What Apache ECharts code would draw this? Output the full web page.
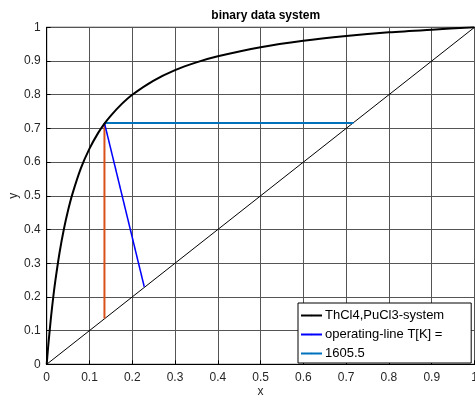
<!DOCTYPE html>
<html>
<head>
<meta charset="utf-8">
<script src="https://cdn.jsdelivr.net/npm/echarts@6/dist/echarts.min.js"></script>
<style>
html, body { margin: 0; padding: 0; background: #fff; }
#main { width: 475px; height: 401px; }
</style>
</head>
<body>
<div id="main"></div>
<script>
// equilibrium curve
var eqX = [0, 0.0025, 0.005, 0.01, 0.015, 0.02, 0.03, 0.04, 0.05, 0.06, 0.08, 0.1, 0.12, 0.135, 0.15, 0.175, 0.2, 0.25, 0.3, 0.35, 0.4, 0.5, 0.6, 0.7, 0.8, 0.9, 1];
var eqY = [0, 0.039, 0.074, 0.139, 0.196, 0.246, 0.331, 0.4, 0.457, 0.505, 0.582, 0.64, 0.686, 0.714, 0.738, 0.772, 0.8, 0.842, 0.873, 0.896, 0.914, 0.941, 0.96, 0.974, 0.985, 0.993, 1];
var diagX = [0, 1];
var diagY = [0, 1];
var opX = [0.135, 0.228];     // operating line
var opY = [0.716, 0.23];
var horX = [0.135, 0.717];    // 1605.5
var horY = [0.716, 0.716];
var vertX = [0.135, 0.135];   // orange step
var vertY = [0.716, 0.136];
var ticks = [0, 0.1, 0.2, 0.3, 0.4, 0.5, 0.6, 0.7, 0.8, 0.9, 1];

function pairs(xs, ys) {
    var out = [];
    for (var i = 0; i < xs.length; i++) out.push([xs[i], ys[i]]);
    return out;
}

function fmt(v) {
    return ticks.indexOf(Math.round(v * 10) / 10) >= 0 ? String(Math.round(v * 10) / 10) : '';
}

var chart = echarts.init(document.getElementById('main'));
var font = 'Liberation Sans, Arial, sans-serif';
var option = {
    animation: false,
    title: {
        text: 'binary data system',
        left: 260.7,
        textAlign: 'center',
        top: 5,
        textStyle: { fontSize: 12, fontWeight: 'bold', color: '#000', fontFamily: font }
    },
    grid: {
        left: 46.7, right: 0.5, top: 27.3, bottom: 36.7,
        outerBoundsMode: 'none', containLabel: false,
        show: true, borderColor: '#000', borderWidth: 1, backgroundColor: '#fff'
    },
    legend: {
        orient: 'vertical',
        left: 298, top: 303,
        backgroundColor: '#fff',
        borderColor: '#000', borderWidth: 1, borderRadius: 0,
        padding: [6, 27, 3, 2],
        itemWidth: 21, itemHeight: 2, itemGap: 6,
        textStyle: { fontSize: 13, color: '#000', fontFamily: font, padding: [0, 0, 0, -2] },
        data: ['ThCl4,PuCl3-system', 'operating-line T[K] =', '1605.5']
    },
    xAxis: {
        type: 'value', min: 0, max: 1, interval: 0.1,
        name: 'x', nameLocation: 'middle', nameGap: 21, nameMoveOverlap: false,
        nameTextStyle: { fontSize: 12, color: '#262626', fontFamily: font },
        axisLine: { show: true, onZero: false, lineStyle: { color: '#000', width: 1 } },
        axisTick: { show: true, inside: true, length: 4, lineStyle: { color: '#000' } },
        axisLabel: { fontSize: 12, color: '#262626', margin: 7, fontFamily: font, formatter: fmt },
        splitLine: { show: true, lineStyle: { color: '#555', width: 1 } }
    },
    yAxis: {
        type: 'value', min: 0, max: 1, interval: 0.1,
        name: 'y', nameLocation: 'middle', nameGap: 27, nameMoveOverlap: false,
        nameTextStyle: { fontSize: 12, color: '#262626', fontFamily: font },
        axisLine: { show: true, onZero: false, lineStyle: { color: '#000', width: 1 } },
        axisTick: { show: true, inside: true, length: 4, lineStyle: { color: '#000' } },
        axisLabel: { fontSize: 12, color: '#262626', margin: 6, fontFamily: font, formatter: fmt },
        splitLine: { show: true, lineStyle: { color: '#555', width: 1 } }
    },
    series: [
        {
            name: 'ThCl4,PuCl3-system', type: 'line', symbol: 'none', smooth: 0.3,
            data: pairs(eqX, eqY),
            lineStyle: { color: '#000', width: 2 }, itemStyle: { color: '#000' }, z: 5
        },
        {
            name: 'diag', type: 'line', symbol: 'none',
            data: pairs(diagX, diagY),
            lineStyle: { color: '#000', width: 1 }, itemStyle: { color: '#000' }, z: 3
        },
        {
            name: 'step', type: 'line', symbol: 'none',
            data: pairs(vertX, vertY),
            lineStyle: { color: '#D95319', width: 2 }, itemStyle: { color: '#D95319' }, z: 4
        },
        {
            name: 'operating-line T[K] =', type: 'line', symbol: 'none',
            data: pairs(opX, opY),
            lineStyle: { color: '#0000FF', width: 1.5 }, itemStyle: { color: '#0000FF' }, z: 4
        },
        {
            name: '1605.5', type: 'line', symbol: 'none',
            data: pairs(horX, horY),
            lineStyle: { color: '#0072BD', width: 2 }, itemStyle: { color: '#0072BD' }, z: 4
        }
    ]
};
chart.setOption(option);
</script>
</body>
</html>
